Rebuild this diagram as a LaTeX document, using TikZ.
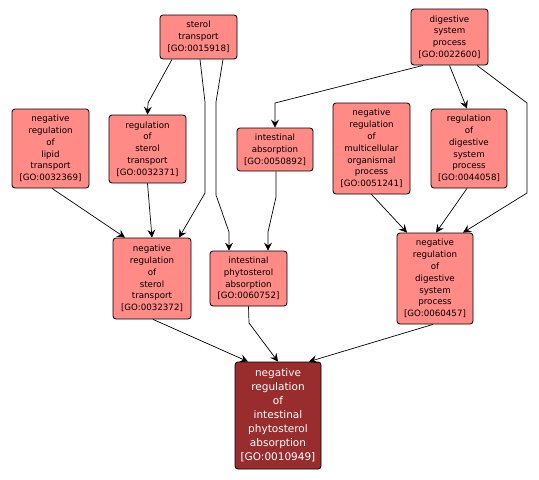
\documentclass[tikz,border=0pt]{standalone}
\usepackage{fontspec}
\setmainfont{DejaVu Sans}
\usetikzlibrary{arrows.meta}
\definecolor{gopink}{RGB}{255,138,134}
\definecolor{godark}{RGB}{153,45,45}
\tikzset{
  goterm/.style={draw=black, line width=0.8pt, fill=gopink, rounded corners=3pt,
    align=center, inner sep=0pt, font=\fontsize{8.7}{11.8}\selectfont, text=black},
  gomain/.style={goterm, fill=godark, text=white, font=\fontsize{10.5}{14}\selectfont},
  goedge/.style={draw=black, line width=0.7pt, -{Stealth[length=8pt,width=8pt,inset=3pt]}}
}
\begin{document}
\begin{tikzpicture}[x=1pt,y=-1pt]
\useasboundingbox (0,0) rectangle (539,480);
\fill[white] (0,0) rectangle (539,480);
% nodes
\node[goterm, minimum width=77pt, minimum height=44pt] (st) at (198.5,37) {sterol\\transport\\{[}GO:0015918{]}};
\node[goterm, minimum width=77pt, minimum height=56pt] (dsp) at (449.5,37) {digestive\\system\\process\\{[}GO:0022600{]}};
\node[goterm, minimum width=77pt, minimum height=79pt] (nrlt) at (50.5,148.5) {negative\\regulation\\of\\lipid\\transport\\{[}GO:0032369{]}};
\node[goterm, minimum width=77pt, minimum height=68pt] (rst) at (147.5,149) {regulation\\of\\sterol\\transport\\{[}GO:0032371{]}};
\node[goterm, minimum width=76pt, minimum height=43pt] (ia) at (275,149.5) {intestinal\\absorption\\{[}GO:0050892{]}};
\node[goterm, minimum width=77pt, minimum height=91pt] (nrmop) at (371.5,148.5) {negative\\regulation\\of\\multicellular\\organismal\\process\\{[}GO:0051241{]}};
\node[goterm, minimum width=76pt, minimum height=79pt] (rdsp) at (469,148.5) {regulation\\of\\digestive\\system\\process\\{[}GO:0044058{]}};
\node[goterm, minimum width=78pt, minimum height=81pt] (nrst) at (152,278.5) {negative\\regulation\\of\\sterol\\transport\\{[}GO:0032372{]}};
\node[goterm, minimum width=77pt, minimum height=55pt] (ipa) at (248.5,278.5) {intestinal\\phytosterol\\absorption\\{[}GO:0060752{]}};
\node[goterm, minimum width=76pt, minimum height=91pt] (nrdsp) at (435,278.5) {negative\\regulation\\of\\digestive\\system\\process\\{[}GO:0060457{]}};
\node[gomain, minimum width=86pt, minimum height=107pt] (main) at (278,415.5) {negative\\regulation\\of\\intestinal\\phytosterol\\absorption\\{[}GO:0010949{]}};
% edges
\draw[goedge] ([xshift=-26.5pt]st.south) -- (148,103) -- (rst.north);
\draw[goedge] ([xshift=1.5pt]st.south) -- (205,102) -- (205,193) -- ([xshift=27pt]nrst.north);
\draw[goedge] ([xshift=24.5pt]st.south) -- (216,102) -- (216,195) -- (229,232) -- ([xshift=-19.5pt]ipa.north);
\draw[goedge] ([xshift=1.5pt]nrlt.south) -- ([xshift=-27pt]nrst.north);
\draw[goedge] (rst.south) -- (nrst.north);
\draw[goedge] ([xshift=1pt]nrst.south) -- ([xshift=-30pt]main.north);
\draw[goedge] (ipa.south) -- (249,323) -- (main.north);
\draw[goedge] ([xshift=-2pt]nrdsp.south) -- ([xshift=31pt]main.north);
\draw[goedge] ([xshift=-26.5pt]dsp.south) -- (275,103) -- (ia.north);
\draw[goedge] (dsp.south) -- ([xshift=-2pt]rdsp.north);
\draw[goedge] ([xshift=27.5pt]dsp.south) -- (527,103) -- (527,193) -- ([xshift=28pt]nrdsp.north);
\draw[goedge] (nrmop.south) -- ([xshift=-28pt]nrdsp.north);
\draw[goedge] ([xshift=-2pt]rdsp.south) -- ([xshift=1pt]nrdsp.north);
\draw[goedge] ([xshift=1pt]ia.south) -- (276,197) -- (268,232) -- ([xshift=19.5pt]ipa.north);
\end{tikzpicture}
\end{document}
